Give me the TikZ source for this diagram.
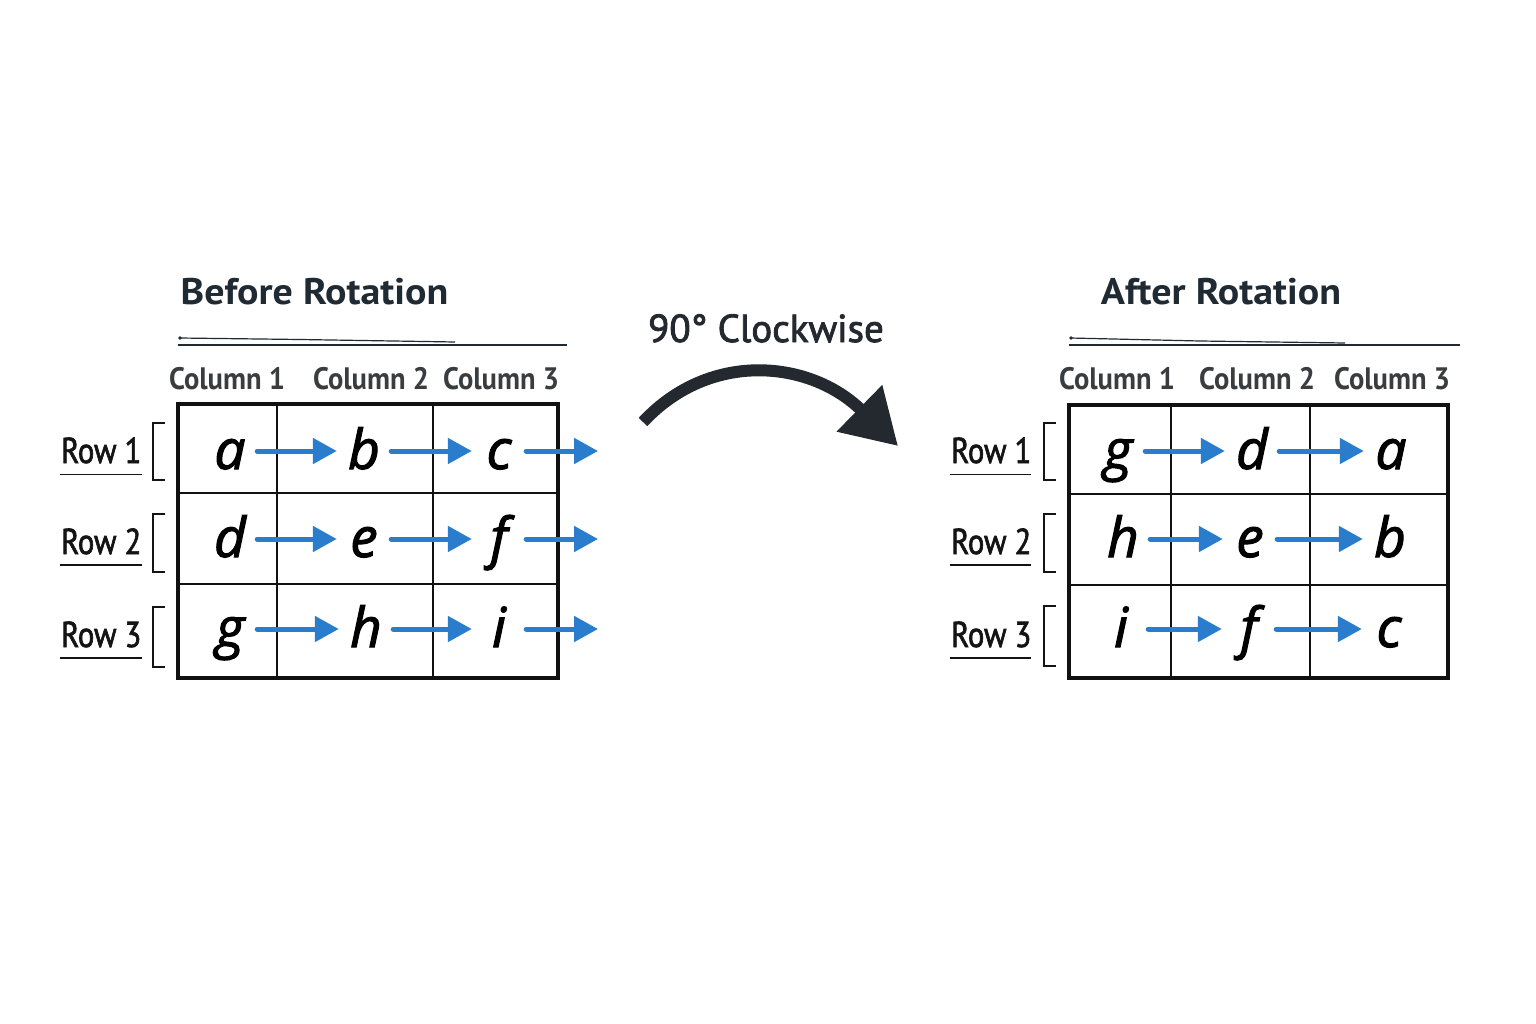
\documentclass[tikz,border=0pt]{standalone}
\usepackage{fontspec}
\setmainfont{PT Sans}
\newfontfamily\lblfont[FakeStretch=0.92]{PT Sans}
\newfontfamily\rowfont[FakeStretch=0.85,FakeBold=1.8]{PT Sans}
\newfontfamily\titlefont[FakeStretch=1.08]{PT Sans}
\newfontfamily\cwfont[FakeBold=2.2]{PT Sans}
\newfontfamily\letterfont[FakeBold=2]{Open Sans}
\usetikzlibrary{arrows.meta}
\definecolor{titlecol}{HTML}{1F2A33}
\definecolor{colcol}{HTML}{3A3D40}
\definecolor{rowcol}{HTML}{141414}
\definecolor{gridcol}{HTML}{111111}
\definecolor{arrowblue}{HTML}{2A7CCC}
\definecolor{darkarrow}{HTML}{23292E}
\tikzset{
  titlelbl/.style={anchor=base, inner sep=0, text=titlecol, font=\fontsize{37}{40}\selectfont\titlefont\bfseries},
  collbl/.style={anchor=base, inner sep=0, text=colcol, font=\fontsize{31}{34}\selectfont\lblfont\bfseries},
  rowlbl/.style={anchor=base west, inner sep=0, text=rowcol, font=\fontsize{36}{40}\selectfont\rowfont},
  cellletter/.style={inner sep=0, minimum width=54pt, text height=46pt, text depth=10pt, text=black, font=\fontsize{55}{60}\selectfont\letterfont\itshape},
  bluearr/.style={draw=arrowblue, line width=5pt, line cap=round, -{Triangle[length=24pt,width=25pt]}},
  darkarr/.style={draw=darkarrow, line width=12pt, -{Triangle[length=54pt,width=62pt]}},
  outer/.style={draw=gridcol, line width=3.5pt},
  inner/.style={draw=gridcol, line width=1.4pt},
  bracket/.style={draw=rowcol, line width=1.5pt},
  uline/.style={draw=rowcol, line width=1.6pt},
  tline/.style={draw=titlecol, line width=1.8pt},
  tlinethin/.style={draw=titlecol, line width=1.2pt}
}
\begin{document}
\begin{tikzpicture}[x=1pt,y=-1pt]
\fill[white] (0,0) rectangle (1536,1024);
\useasboundingbox (0,0) rectangle (1536,1024);

% ---------- Before ----------
\node[titlelbl] (tb) at (314.5,305) {Before Rotation};
\draw[tline] (178,345) -- (567,345);
\draw[tlinethin] (179,338) -- (300,339.5) -- (455,342);
\fill[titlecol] (180,338) circle (1.8);

\node[collbl] (bc1) at (227,389) {Column 1};
\node[collbl] (bc2) at (371,389) {Column 2};
\node[collbl] (bc3) at (501,389) {Column 3};

\draw[outer] (178,404) rectangle (558,678);
\draw[inner] (277,404) -- (277,678) (433,404) -- (433,678)
             (178,493) -- (558,493) (178,584) -- (558,584);

\node[rowlbl] (br1) at (61,463) {Row 1};
\node[rowlbl] (br2) at (61,554) {Row 2};
\node[rowlbl] (br3) at (61,647) {Row 3};
\draw[uline] (60,474.5) -- (142,474.5);
\draw[uline] (60,565) -- (142,565);
\draw[uline] (60,658) -- (142,658);
\draw[bracket] (165,423) -- (153,423) -- (153,480) -- (165,480);
\draw[bracket] (165,514) -- (153,514) -- (153,572) -- (165,572);
\draw[bracket] (165,607) -- (153,607) -- (153,667) -- (165,667);

\node[cellletter] (L11) at (230,451) {a};
\node[cellletter] (L12) at (364,451) {b};
\node[cellletter] (L13) at (499,451) {c};
\node[cellletter] (L21) at (230,539) {d};
\node[cellletter] (L22) at (364,539) {e};
\node[cellletter] (L23) at (499,539) {f};
\node[cellletter] (L31) at (230,629) {g};
\node[cellletter] (L32) at (366,629) {h};
\node[cellletter] (L33) at (499,629) {i};
\coordinate (E1) at (598,451);
\coordinate (E2) at (598,539);
\coordinate (E3) at (598,629);
\draw[bluearr] (L11) -- (L12);
\draw[bluearr] (L12) -- (L13);
\draw[bluearr] (L13) -- (E1);
\draw[bluearr] (L21) -- (L22);
\draw[bluearr] (L22) -- (L23);
\draw[bluearr] (L23) -- (E2);
\draw[bluearr] (L31) -- (L32);
\draw[bluearr] (L32) -- (L33);
\draw[bluearr] (L33) -- (E3);

% ---------- middle ----------
\node[anchor=base, inner sep=0, text=darkarrow, font=\fontsize{39}{40}\selectfont\cwfont] (cw) at (766,342) {90° Clockwise};
\coordinate (cs) at (643,422);
\coordinate (ce) at (898,446);
\draw[darkarr] (cs) .. controls (710,350) and (810,360) .. (ce);

% ---------- After ----------
\node[titlelbl] (ta) at (1221,305) {After Rotation};
\draw[tline] (1069,345) -- (1460,345);
\draw[tlinethin] (1070,338) -- (1200,341) -- (1345,343);
\fill[titlecol] (1071,338) circle (1.8);

\node[collbl] (ac1) at (1117,389) {Column 1};
\node[collbl] (ac2) at (1257,389) {Column 2};
\node[collbl] (ac3) at (1392,389) {Column 3};

\draw[outer] (1069,405) rectangle (1448,678);
\draw[inner] (1171,405) -- (1171,678) (1310,405) -- (1310,678)
             (1069,494) -- (1448,494) (1069,585) -- (1448,585);

\node[rowlbl] (ar1) at (951,463) {Row 1};
\node[rowlbl] (ar2) at (951,554) {Row 2};
\node[rowlbl] (ar3) at (951,647) {Row 3};
\draw[uline] (950,474.5) -- (1031,474.5);
\draw[uline] (950,565) -- (1031,565);
\draw[uline] (950,658) -- (1031,658);
\draw[bracket] (1056,423) -- (1044,423) -- (1044,480) -- (1056,480);
\draw[bracket] (1056,514) -- (1044,514) -- (1044,572) -- (1056,572);
\draw[bracket] (1056,606) -- (1044,606) -- (1044,666) -- (1056,666);

\node[cellletter] (R11) at (1118,451) {g};
\node[cellletter] (R12) at (1252,451) {d};
\node[cellletter] (R13) at (1391,451) {a};
\node[cellletter] (R21) at (1123,539) {h};
\node[cellletter] (R22) at (1250,539) {e};
\node[cellletter] (R23) at (1390,539) {b};
\node[cellletter] (R31) at (1121,629) {i};
\node[cellletter] (R32) at (1249,629) {f};
\node[cellletter] (R33) at (1389,629) {c};
\draw[bluearr] (R11) -- (R12);
\draw[bluearr] (R12) -- (R13);
\draw[bluearr] (R21) -- (R22);
\draw[bluearr] (R22) -- (R23);
\draw[bluearr] (R31) -- (R32);
\draw[bluearr] (R32) -- (R33);
\end{tikzpicture}
\end{document}
